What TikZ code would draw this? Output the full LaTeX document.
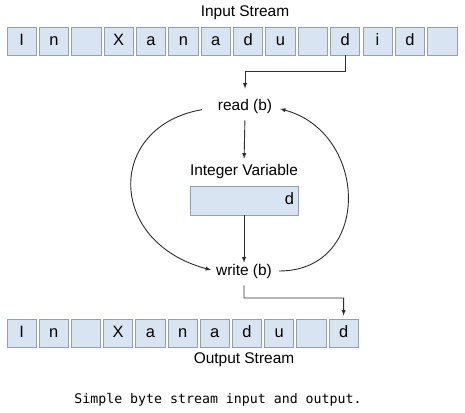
\documentclass[tikz,border=0pt]{standalone}
\usepackage{fontspec}
\setmainfont{Liberation Sans}
\newfontfamily\capmono{DejaVu Sans Mono}
\usetikzlibrary{positioning}

\definecolor{cellblue}{RGB}{216,228,241}
\definecolor{celledge}{RGB}{150,160,172}
\definecolor{wire}{RGB}{45,45,45}

\tikzset{
  cell/.style={draw=celledge, fill=cellblue, line width=0.8bp, minimum width=29.3bp,
    minimum height=28bp, inner sep=0pt, text height=11.5bp, text depth=3bp,
    font=\fontsize{16.5}{16.5}\selectfont},
  lbl/.style={inner sep=1bp, font=\fontsize{15.5}{15.5}\selectfont},
  wire/.style={draw=wire, line width=0.9bp, ->, >=latex},
}

\begin{document}
\begin{tikzpicture}[x=1bp, y=1bp]
\useasboundingbox (0,0) rectangle (465,412);

% input stream
\node[lbl] (intitle) at (245,399) {Input Stream};
\foreach \c [count=\i] in {I,n,{},X,a,n,a,d,u,{},d,i,d,{}}
  \node[cell] (in\i) at ({21.6+(\i-1)*32.36},371) {\c};

% read, variable, write
\node[lbl] (read) at (245,305) {read (b)};
\node[lbl] (intvar) at (244,240) {Integer Variable};
\node[cell, minimum width=108bp, minimum height=29bp, text width=100bp, align=right] (var) at (244,211.5) {d};
\node[lbl] (write) at (244,141) {write (b)};

% output stream
\foreach \c [count=\i] in {I,n,{},X,a,n,a,d,u,{},d}
  \node[cell] (out\i) at ({21.6+(\i-1)*32.2},79) {\c};
\node[lbl] (outtitle) at (244,52) {Output Stream};

\node[font=\capmono\fontsize{13.3}{13.3}\selectfont] (caption) at (218,12) {Simple byte stream input and output.};

% connectors
\coordinate (inturn) at (245,341);
\coordinate (outturn) at (343.6,114);
\draw[wire, shorten >=10bp] (in11.south) |- (inturn) -- (read.north);
\draw[wire, shorten <=5bp, shorten >=5bp] (read.south) -- (intvar.north);
\draw[wire] (var.south) -- (write.north);
\draw[wire, shorten <=6bp, shorten >=3bp] (write.south) |- (outturn) -- (out11.north);

% the loop round
\draw[wire, shorten <=15bp, shorten >=4bp] (read.west) to[out=190, in=165, looseness=1.75] (write.west);
\draw[wire, shorten <=6bp, shorten >=7bp] (write.east) to[out=0, in=345, looseness=1.55] (read.east);

\end{tikzpicture}
\end{document}
